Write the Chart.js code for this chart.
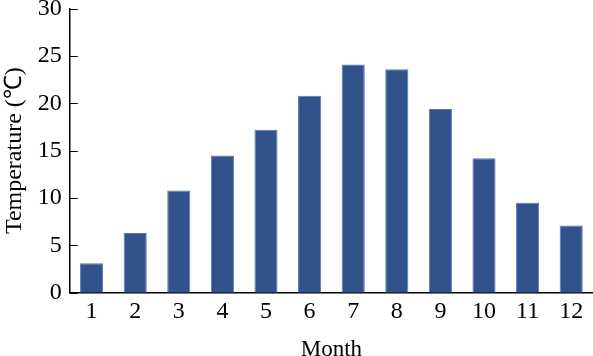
<!DOCTYPE html>
<html>
<head>
<meta charset="utf-8">
<script src="https://cdn.jsdelivr.net/npm/chart.js@4/dist/chart.umd.min.js"></script>
<style>
  html, body { margin: 0; padding: 0; background: #ffffff; }
  #wrap { width: 593px; height: 356px; position: relative; }
</style>
</head>
<body>
<div id="wrap"><canvas id="c"></canvas></div>
<script>
const months = ['1','2','3','4','5','6','7','8','9','10','11','12'];
const temperature = [3.1, 6.3, 10.8, 14.5, 17.2, 20.8, 24.1, 23.6, 19.4, 14.2, 9.5, 7.1];
const yTicks = [0, 5, 10, 15, 20, 25, 30];
const xTitle = 'Month';
const yTitle = 'Temperature (℃)';

const FONT = "'Liberation Serif', 'Times New Roman', serif";

const innerTicks = {
  id: 'innerTicks',
  afterDatasetsDraw(chart) {
    const y = chart.scales.y;
    const ctx = chart.ctx;
    const left = chart.chartArea.left;
    ctx.save();
    ctx.strokeStyle = '#000';
    ctx.lineWidth = 1;
    y.ticks.forEach((t, i) => {
      const py = Math.round(y.getPixelForTick(i)) + 0.5;
      ctx.beginPath();
      ctx.moveTo(left, py);
      ctx.lineTo(left + 8, py);
      ctx.stroke();
    });
    ctx.restore();
  }
};

new Chart(document.getElementById('c'), {
  type: 'bar',
  data: {
    labels: months,
    datasets: [{
      data: temperature,
      backgroundColor: '#31528A',
      borderColor: '#5b76a6',
      borderWidth: 1,
      categoryPercentage: 1.0,
      barPercentage: 0.53
    }]
  },
  options: {
    responsive: true,
    maintainAspectRatio: false,
    animation: false,
    devicePixelRatio: 1,
    layout: { padding: { top: 0, right: 0, bottom: 0, left: 0 } },
    plugins: { legend: { display: false }, tooltip: { enabled: false } },
    scales: {
      x: {
        grid: { display: false, drawTicks: false },
        border: { display: true, color: '#000', width: 1.5 },
        ticks: { color: '#000', font: { family: FONT, size: 24 }, padding: 5, maxRotation: 0 },
        title: { display: true, text: xTitle, color: '#000', font: { family: FONT, size: 23, lineHeight: 0.5 }, padding: { top: 13, bottom: 0 } }
      },
      y: {
        min: 0, max: 30,
        afterBuildTicks(scale) { scale.ticks = yTicks.map(v => ({ value: v })); },
        grid: { display: false, drawTicks: false },
        border: { display: true, color: '#000', width: 1.5 },
        ticks: { color: '#000', font: { family: FONT, size: 24, lineHeight: 0.05 }, padding: 8 },
        title: { display: true, text: yTitle, color: '#000', font: { family: FONT, size: 24 }, padding: { top: 0, bottom: 1 } }
      }
    }
  },
  plugins: [innerTicks]
});
</script>
</body>
</html>
